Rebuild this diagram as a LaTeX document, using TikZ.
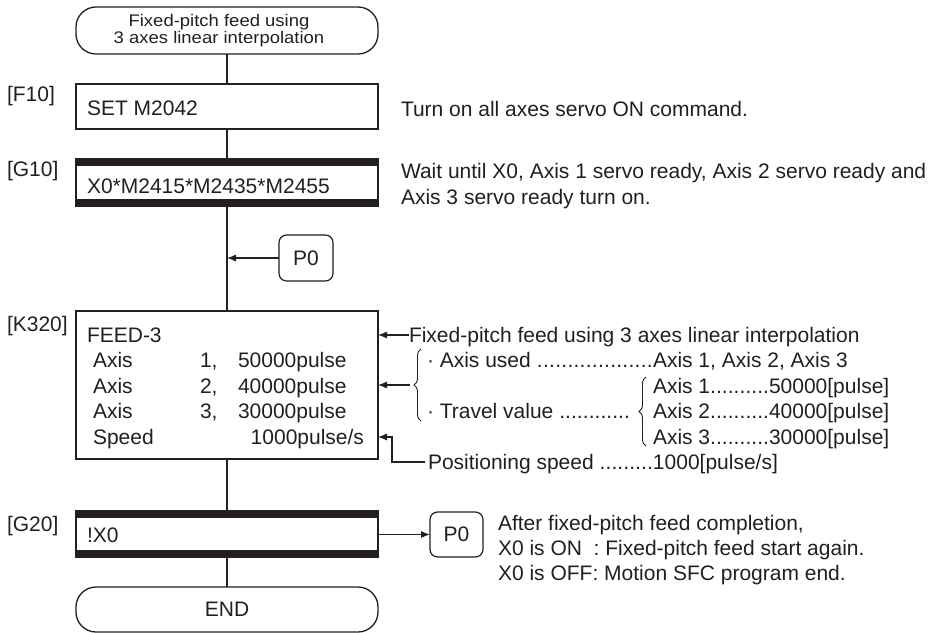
\documentclass[tikz,border=0pt]{standalone}
\usepackage{fontspec}
\setmainfont{Liberation Sans}
\newfontfamily\termfont[FakeStretch=1.1]{Liberation Sans}
\usetikzlibrary{arrows.meta,fit,calc,decorations.pathreplacing}
\definecolor{ink}{RGB}{35,31,32}
\newcommand{\leadto}[2]{\hbox to #1{#2\xleaders\hbox{.}\hfill}}
\begin{document}
\begin{tikzpicture}[x=0.5pt,y=-0.5pt]
\tikzset{
  every node/.style={inner sep=0pt, outer sep=0pt, text=ink, font=\fontsize{10.5}{12.6}\selectfont},
  box/.style={draw=ink, line width=0.65pt},
  term/.style={draw=ink, line width=0.65pt, rounded corners=10pt},
  conn/.style={draw=ink, line width=0.6pt, rounded corners=3.8pt},
  txt/.style={anchor=base west},
  flow/.style={draw=ink, line width=0.65pt},
  arr/.style={flow, -{Latex[length=4.5pt,width=3.6pt]}},
  bar/.style={fill=ink},
  brc/.style={draw=ink, line width=0.45pt, decorate, decoration={brace, amplitude=3.5pt}},
}
\useasboundingbox (0,0) rectangle (939,633);

% main column
\node[term, fit={(76,7) (378,54)}] (st) {};
\node[align=center, font=\termfont\fontsize{8.4}{7.6}\selectfont] (sttxt) at (219,30.5) {Fixed-pitch feed using\\3 axes linear interpolation};
\node[box, fit={(76,84) (378,129)}] (f10) {};
\node[box, fit={(76,159) (378,206)}] (g10) {};
\fill[bar] (g10.north west) rectangle ($(g10.north east)+(0,7)$);
\fill[bar] ($(g10.south west)+(0,-7)$) rectangle (g10.south east);
\node[box, fit={(76,311) (378,459)}] (k320) {};
\node[box, fit={(76,511) (378,557)}] (g20) {};
\fill[bar] (g20.north west) rectangle ($(g20.north east)+(0,7)$);
\fill[bar] ($(g20.south west)+(0,-7)$) rectangle (g20.south east);
\node[term, minimum width=151pt, minimum height=22.5pt] (endn) at (227,609.5) {END};

\draw[flow] (st.south) -- (f10.north);
\draw[flow] (f10.south) -- (g10.north);
\draw[flow] (g10.south) -- (k320.north);
\draw[flow] (k320.south) -- (g20.north);
\draw[flow] (g20.south) -- (endn.north);

% labels
\node[txt] (lf10) at (7,101) {[F10]};
\node[txt] (lg10) at (7,176) {[G10]};
\node[txt] (lk320) at (7,331) {[K320]};
\node[txt] (lg20) at (7,531) {[G20]};

% box texts
\node[txt] (tf10) at (87,115) {SET M2042};
\node[txt] (tg10) at (87,193) {X0*M2415*M2435*M2455};
\node[txt] (tk1) at (87,342) {FEED-3};
\node[txt] (tk2) at (93,367.5) {Axis};
\node[txt] (tk2n) at (200,367.5) {1,};
\node[txt] (tk2v) at (238,367.5) {50000pulse};
\node[txt] (tk3) at (93,393) {Axis};
\node[txt] (tk3n) at (200,393) {2,};
\node[txt] (tk3v) at (238,393) {40000pulse};
\node[txt] (tk4) at (93,418.5) {Axis};
\node[txt] (tk4n) at (200,418.5) {3,};
\node[txt] (tk4v) at (238,418.5) {30000pulse};
\node[txt] (tk5) at (93,444) {Speed};
\node[anchor=base east] (tk5v) at (364,444) {1000pulse/s};
\node[txt] (tg20) at (87,542) {!X0};

% P0 connectors
\node[conn, minimum width=27pt, minimum height=23pt] (p0a) at (306,258) {P0};
\draw[arr] (p0a.west) -- (p0a.west -| st.south);
\node[conn, minimum width=26.5pt, minimum height=22.5pt] (p0b) at (456.5,534.5) {P0};
\draw[arr] (g20.east |- p0b.west) -- (p0b.west);

% right annotations
\node[txt] (c1) at (401,116) {Turn on all axes servo ON command.};
\node[txt] (c2) at (401,178) {Wait until X0, Axis 1 servo ready, Axis 2 servo ready and};
\node[txt] (c3) at (401,204) {Axis 3 servo ready turn on.};

\node[txt] (ann1) at (409,342) {Fixed-pitch feed using 3 axes linear interpolation};
\coordinate (a1) at ($(ann1.base west)+(0,-7)$);
\draw[arr] (a1) -- (a1 -| k320.east);

\node[txt] (ann2) at (427,367.5) {\leadto{113pt}{· Axis used\ }};
\node[txt] (ann2v) at (653,367.5) {Axis 1, Axis 2, Axis 3};
\node[txt] (ann3) at (427,418.5) {\leadto{101.5pt}{· Travel value\ }};
\node[txt] (ax1) at (653,393) {\leadto{58pt}{Axis 1}50000[pulse]};
\node[txt] (ax2) at (653,418.5) {\leadto{58pt}{Axis 2}40000[pulse]};
\node[txt] (ax3) at (653,444) {\leadto{58pt}{Axis 3}30000[pulse]};
\node[txt] (ann4) at (428,469.5) {\leadto{112.5pt}{Positioning speed\ }1000[pulse/s]};

\draw[brc] (421,421) -- (421,349);
\coordinate (b1) at (410,385);
\draw[arr] (b1) -- (b1 -| k320.east);
\draw[brc] (646,446) -- (646,377);

\coordinate (ps) at (425,462);
\coordinate (spdy) at (0,437);
\coordinate (spd) at (k320.east |- spdy);
\draw[arr] (ps) -| ($(spd)+(14,0)$) -- (spd);

\node[txt] (aft1) at (498,530) {After fixed-pitch feed completion,};
\node[txt] (aft2) at (498,555) {X0 is ON\ \ : Fixed-pitch feed start again.};
\node[txt] (aft3) at (498,580) {X0 is OFF: Motion SFC program end.};
\end{tikzpicture}
\end{document}
